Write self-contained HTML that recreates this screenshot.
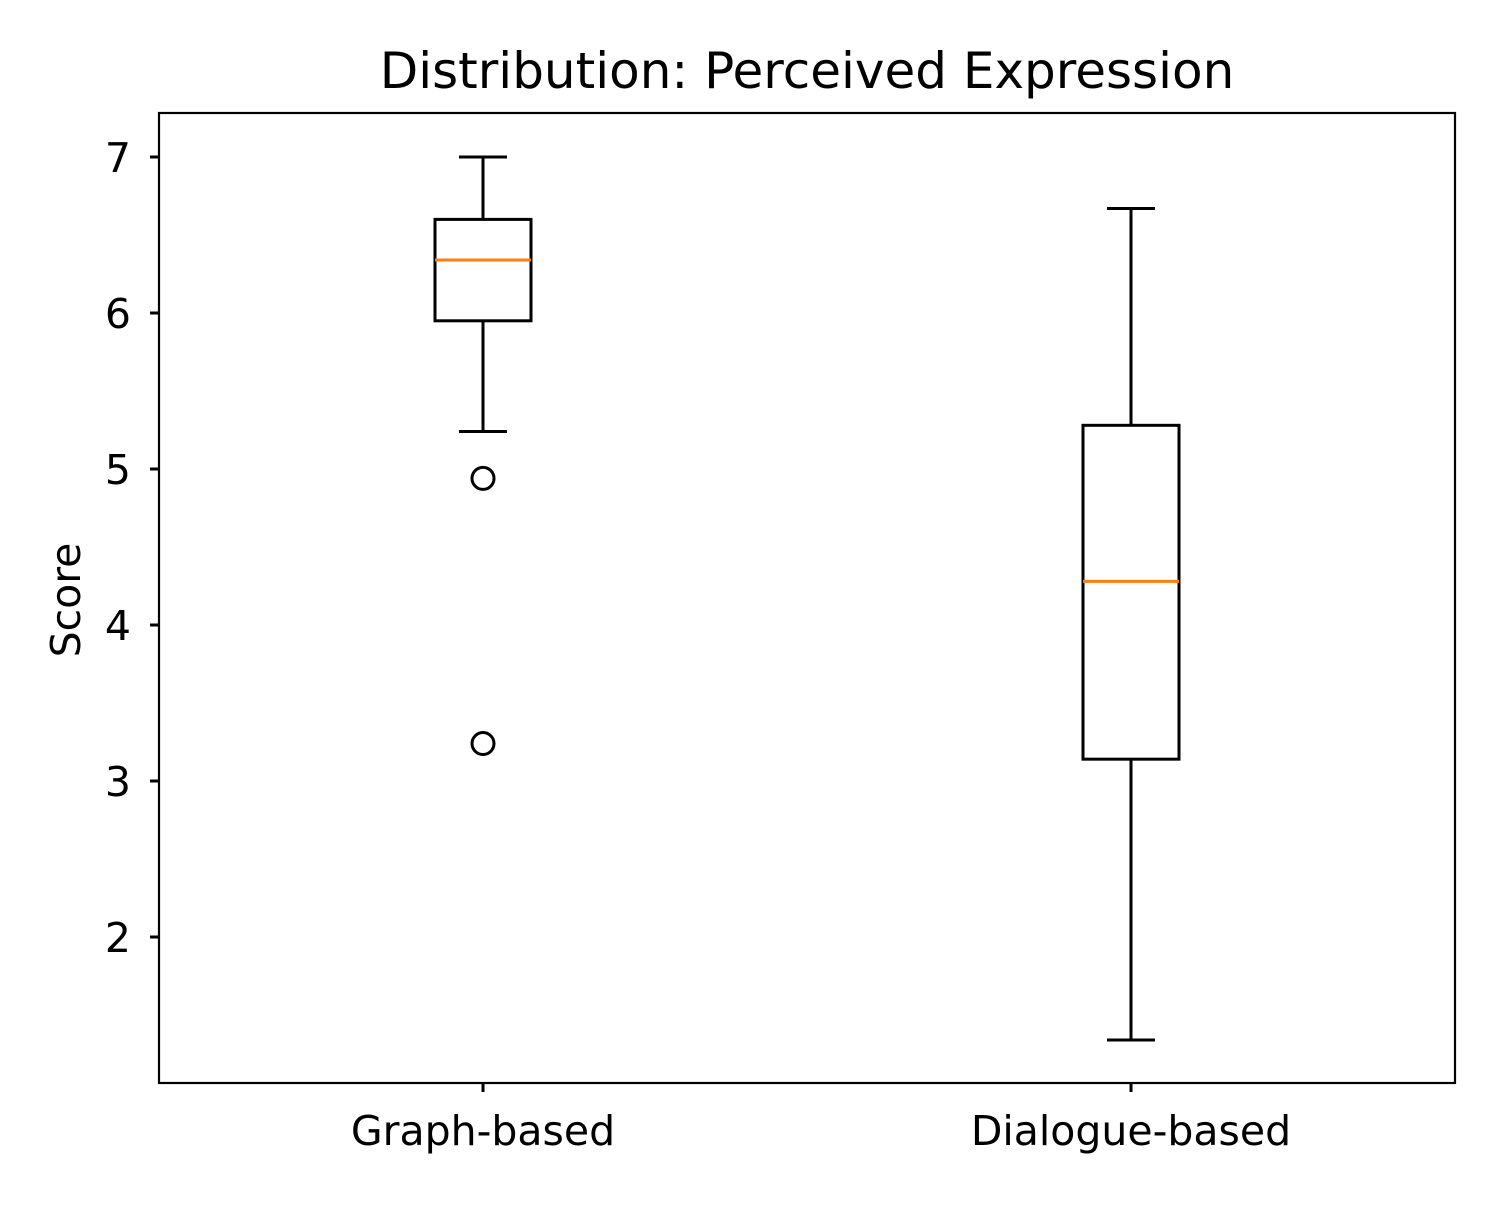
<!DOCTYPE html>
<html><head><meta charset="utf-8"><style>html,body{margin:0;padding:0;background:#fff}</style></head>
<body>
<svg width="1500" height="1200" xmlns="http://www.w3.org/2000/svg" font-family="DejaVu Sans, Liberation Sans, sans-serif">
<rect width="1500" height="1200" fill="#fff"/>
<text x="807" y="88" font-size="50" text-anchor="middle">Distribution: Perceived Expression</text>
<g id="plot"></g>
<rect x="159" y="113" width="1296" height="970" fill="none" stroke="#000" stroke-width="2.2"/>
<text transform="translate(80,600) rotate(-90)" font-size="41" text-anchor="middle">Score</text>
</svg>
<script>
const categories = ["Graph-based", "Dialogue-based"];
const whiskerLow = [5.24, 1.34];
const q1 = [5.95, 3.14];
const median = [6.34, 4.28];
const q3 = [6.60, 5.28];
const whiskerHigh = [7.0, 6.67];
const outliers = [[4.94, 3.24], []];
const yTicks = [2, 3, 4, 5, 6, 7];

const L=159,R=1455,T=113,B=1083;
const y = v => 157 + (7 - v) * 156;
const x = i => L + (R - L) * ((i + 1) - 0.5) / 2;
const ns="http://www.w3.org/2000/svg";
const g=document.getElementById('plot');
function mk(tag,attrs,parent){const e=document.createElementNS(ns,tag);for(const k in attrs)e.setAttribute(k,attrs[k]);(parent||g).appendChild(e);return e;}
function line(x1,y1,x2,y2,c,p){return mk('line',{x1,y1,x2,y2,stroke:c||'#000','stroke-width':3},p);}

yTicks.forEach(t=>{
  const tk=line(L-9,y(t),L,y(t));
  
  
  const tx=mk('text',{x:L-28,y:y(t)+15,'font-size':41,'text-anchor':'end'});
  tx.textContent=t;
  
  
});
categories.forEach((c,i)=>{
  const cx=x(i);
  const grp=mk('g',{});
  
  
  line(cx,y(whiskerHigh[i]),cx,y(q3[i]),'#000',grp);
  line(cx,y(q1[i]),cx,y(whiskerLow[i]),'#000',grp);
  line(cx-24,y(whiskerHigh[i]),cx+24,y(whiskerHigh[i]),'#000',grp);
  line(cx-24,y(whiskerLow[i]),cx+24,y(whiskerLow[i]),'#000',grp);
  mk('rect',{x:cx-48,y:y(q3[i]),width:96,height:y(q1[i])-y(q3[i]),fill:'none',stroke:'#000','stroke-width':3},grp);
  const m=line(cx-48,y(median[i]),cx+48,y(median[i]),'#ff7f0e',grp);
  
  
  outliers[i].forEach(o=>{
    const ci=mk('circle',{cx:cx,cy:y(o),r:11,fill:'none',stroke:'#000','stroke-width':3},grp);
    
    
  });
  const tk=line(cx,B,cx,B+9);
  
  
  const tx=mk('text',{x:cx,y:B+62,'font-size':41,'text-anchor':'middle'});
  tx.textContent=c;
  
  
});
</script>
</body></html>
